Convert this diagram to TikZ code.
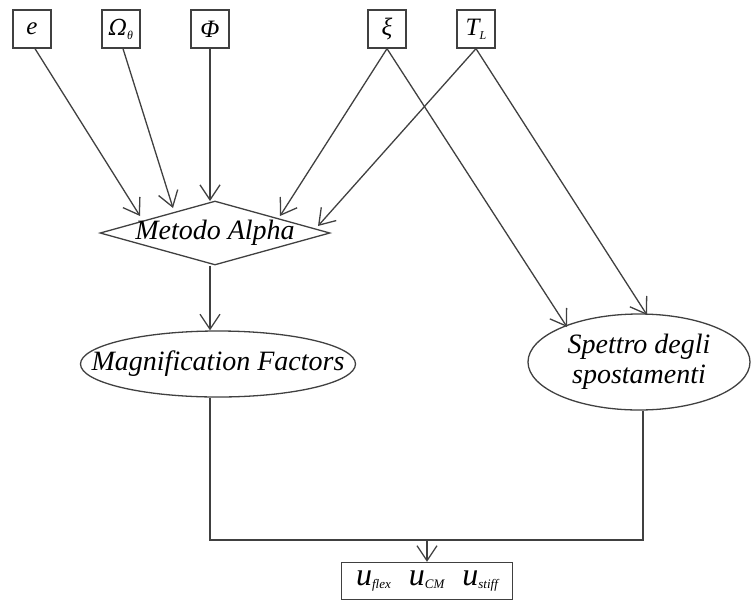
\documentclass[tikz,border=0pt]{standalone}
\usepackage{fontspec}
\setmainfont{Liberation Serif}
\newfontfamily\grkfont{DejaVu Serif}
\usetikzlibrary{arrows.meta,shapes.geometric}

\definecolor{linegray}{HTML}{404040}

\tikzset{
  conn/.style={draw=linegray, line width=1.3pt},
  arr/.style={conn, -{Straight Barb[length=15pt,width=20pt,line width=1.3pt]}},
  varbox/.style={draw=linegray, line width=1.3pt, fill=white, minimum width=38pt,
    minimum height=38pt, inner sep=0pt, font=\itshape\fontsize{25}{26}\selectfont},
  decision/.style={diamond, draw=linegray, line width=1.3pt, aspect=3.5,
    minimum width=230pt, minimum height=64pt, inner sep=0pt,
    font=\itshape\fontsize{28}{30}\selectfont},
  result/.style={ellipse, draw=linegray, line width=1.3pt, inner sep=0pt,
    font=\itshape\fontsize{28}{30}\selectfont, align=center},
  outbox/.style={draw=linegray, line width=1.3pt, minimum width=171pt,
    minimum height=37pt, inner sep=0pt},
}
\newcommand{\lowtxt}[1]{\raisebox{-0.35ex}{\fontsize{12}{12}\selectfont #1}}
\newcommand{\uvar}[1]{{\itshape\fontsize{32}{32}\selectfont u}\raisebox{-0.5ex}{\itshape\fontsize{13}{14}\selectfont #1}}

\begin{document}
\begin{tikzpicture}[x=1pt,y=-1pt]
\useasboundingbox (0,0) rectangle (752,603);

% input variables
\node[varbox] (e)   at (32,29)  {e};
\node[varbox] (om)  at (121,29) {{\grkfont\fontsize{22}{24}\selectfont Ω}\lowtxt{θ}};
\node[varbox] (phi) at (210,29) {Φ};
\node[varbox] (xi)  at (387,29) {ξ};
\node[varbox] (tl)  at (476,29) {T\lowtxt{L}};

% processing and results
\node[decision] (alpha) at (215,233) {\makebox[0pt]{Metodo Alpha}};
\node[result, minimum width=275pt, minimum height=66pt] (mf) at (218,364) {\makebox[0pt]{Magnification Factors}};
\node[result, minimum width=222pt, minimum height=96pt] (sp) at (639,362) {\raisebox{-5pt}{\begin{tabular}{@{}c@{}}Spettro degli\\spostamenti\end{tabular}}};
\node[outbox] (out) at (427,581) {\uvar{flex}\hspace{18pt}\uvar{CM}\hspace{18pt}\uvar{stiff}};

% arrow ends on the diamond and the ellipse
\coordinate (a1) at (140,216);
\coordinate (a2) at (173,208);
\coordinate (a3) at (210,201);
\coordinate (a4) at (280,216);
\coordinate (a5) at (318,226);
\coordinate (s1) at (567,327);
\coordinate (s2) at (647,315);
\coordinate (j1) at (210,540);
\coordinate (j2) at (643,540);
\coordinate (jm) at (427,540);

% inputs into the method
\draw[arr] (e.south -| 35,0) -- (a1);
\draw[arr] (om.south -| 123,0) -- (a2);
\draw[arr] (phi.south) -- (a3);
\draw[arr] (xi.south) -- (a4);
\draw[arr] (tl.south) -- (a5);
% inputs into the spectrum
\draw[arr] (xi.south) -- (s1);
\draw[arr] (tl.south) -- (s2);

% method to factors
\draw[arr] (a3 |- alpha.south) -- (a3 |- mf.north);

% merge into the output
\draw[conn] (mf.south -| j1) -- (j1) -- (j2) -- (sp.south -| j2);
\draw[arr] (jm) -- (out.north);
\end{tikzpicture}
\end{document}
